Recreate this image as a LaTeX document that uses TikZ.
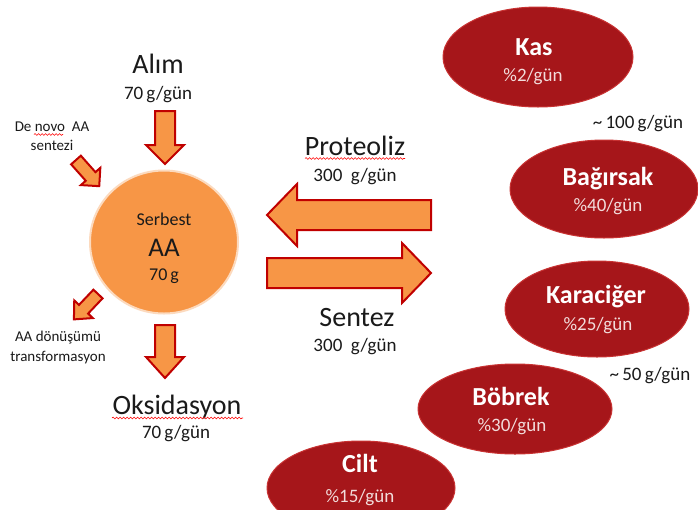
\documentclass[tikz,border=0pt]{standalone}
\usepackage{fontspec}
\setmainfont{Carlito}
\usetikzlibrary{shapes.geometric,decorations.pathmorphing}
\definecolor{aaorange}{HTML}{F79646}
\definecolor{arrred}{HTML}{C00000}
\definecolor{organred}{RGB}{166,22,26}
\definecolor{organedge}{RGB}{200,50,50}
\definecolor{pctpink}{HTML}{F2DCDB}
\definecolor{txtdark}{HTML}{1A1A1A}
\newcommand\fsz[1]{\fontsize{#1}{#1}\selectfont}
% block arrow: position, angle, length, shaft half width, head half width, head length
\newcommand\barr[6]{\draw[blockarr,shift={#1},rotate=#2] (0,-#4) -- ({#3-#6},-#4) -- ({#3-#6},-#5) -- (#3,0) -- ({#3-#6},#5) -- ({#3-#6},#4) -- (0,#4) -- cycle;}
\tikzset{
  blockarr/.style={fill=aaorange, draw=arrred, line width=2pt, line join=miter},
  organ/.style={ellipse, fill=organred, draw=organedge, line width=1pt, inner sep=0pt},
  poolshape/.style={ellipse, fill=aaorange, draw=aaorange!35!white, line width=2pt, inner sep=0pt},
  lbl/.style={anchor=base, inner sep=0pt, text=txtdark},
  big/.style={lbl, font=\fsz{28}},
  rate/.style={lbl, font=\fsz{19}},
  small/.style={lbl, font=\fsz{15}},
  oname/.style={anchor=base, inner sep=0pt, text=white, font=\fsz{26}\bfseries},
  opct/.style={anchor=base, inner sep=0pt, text=pctpink, font=\fsz{19}},
  wavy/.style={draw=red, line width=0.6pt, decorate, decoration={snake, amplitude=0.9pt, segment length=3.5pt}}
}
\begin{document}
\begin{tikzpicture}[x=1pt,y=-1pt]
\useasboundingbox (0,0) rectangle (698,509);
\fill[white] (0,0) rectangle (698,509);

% central pool
\node[poolshape, minimum width=148pt, minimum height=143pt] (aa) at (164,242) {};
\node[lbl, font=\fsz{18}] (serbest) at (164,225) {Serbest};
\node[lbl, font=\fsz{27}] (aalbl) at (164,256.5) {AA};
\node[lbl, font=\fsz{18}] (aag) at (164,280) {70\,g};

% intake
\node[big] (alim) at (158,73) {Alım};
\node[rate] (alimrate) at (158,99) {70\,g/gün};
\barr{(165,111)}{-90}{53}{10}{19}{19}

% de novo
\node[small] (denovo) at (52,131) {De novo\ \ AA};
\node[small] (sentezi) at (52,150) {sentezi};
\barr{(76,160)}{-48.4}{35}{6.5}{13}{13}
\coordinate (nv1) at (34,134.5);
\coordinate (nv2) at (63,134.5);
\draw[wavy] (nv1) -- (nv2);

% conversion
\barr{(98,294)}{-133.5}{35}{6.3}{12.8}{14}
\node[small] (donusum) at (58,341.5) {AA dönüşümü};
\node[small] (transf) at (58,361.5) {transformasyon};

% oxidation
\barr{(165,325)}{-90}{53}{10}{19}{21}
\node[big] (oks) at (177,414) {Oksidasyon};
\node[rate] (oksrate) at (176,438) {70\,g/gün};
\coordinate (ow1) at (112,418);
\coordinate (ow2) at (243,418);
\draw[wavy] (ow1) -- (ow2);

% proteolysis / synthesis
\node[big] (prot) at (355,155) {Proteoliz};
\node[rate] (protrate) at (355,181.5) {300\ \ g/gün};
\coordinate (pw1) at (305,158.5);
\coordinate (pw2) at (405,158.5);
\draw[wavy] (pw1) -- (pw2);
\barr{(431,215)}{180}{164}{15}{31}{30}
\barr{(267,273)}{0}{164}{15}{30}{29}
\node[big] (sentez) at (357,326.5) {Sentez};
\node[rate] (sentezrate) at (355,351.5) {300\ \ g/gün};

% organs
\node[organ, minimum width=190pt, minimum height=100pt] (kas) at (538,57) {};
\node[oname] (kasn) at (534,55) {Kas};
\node[opct] (kasp) at (533,81.5) {\%2/gün};

\node[rate] (hundred) at (638,128) {\char`~\,100\,g/gün};

\node[organ, minimum width=188pt, minimum height=98pt] (bag) at (604,189) {};
\node[oname] (bagn) at (608,185) {Bağırsak};
\node[opct] (bagp) at (608,211.5) {\%40/gün};

\node[organ, minimum width=184pt, minimum height=96pt] (kar) at (597,309) {};
\node[oname] (karn) at (596,303) {Karaciğer};
\node[opct] (karp) at (598,330) {\%25/gün};

\node[rate] (fifty) at (650,380) {\char`~\,50\,g/gün};

\node[organ, minimum width=194pt, minimum height=90pt] (bob) at (515,409) {};
\node[oname] (bobn) at (511,405) {Böbrek};
\node[opct] (bobp) at (512,431) {\%30/gün};

\node[organ, minimum width=188pt, minimum height=94pt] (cilt) at (361,488) {};
\node[oname] (ciltn) at (360,472) {Cilt};
\node[opct] (ciltp) at (360,502) {\%15/gün};
\end{tikzpicture}
\end{document}
